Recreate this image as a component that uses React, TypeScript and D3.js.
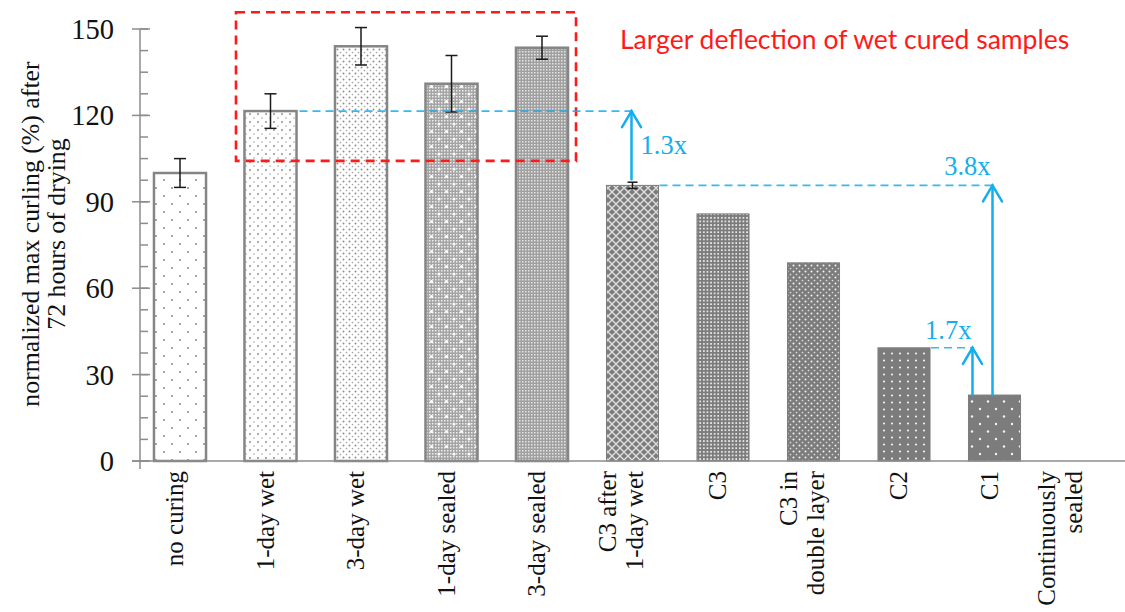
import React from "react";
import * as d3 from "d3";

// Curing regimes along the x axis ("\n" breaks a label onto a second line)
const categories = [
  "no curing",
  "1-day wet",
  "3-day wet",
  "1-day sealed",
  "3-day sealed",
  "C3 after\n1-day wet",
  "C3",
  "C3 in\ndouble layer",
  "C2",
  "C1",
  "Continuously\nsealed",
];

// Normalized max curling (%) after 72 hours of drying
const curling = [100, 121.5, 144, 131, 143.5, 95.7, 85.8, 68.8, 39.3, 22.9, 0];

// Half-length of the error bars (0 = none)
const errors = [5, 6, 6.5, 9.8, 4, 1.1, 0, 0, 0, 0, 0];

const yTicks = [0, 30, 60, 90, 120, 150];
const yMinorStep = 7.5;

// Ratio arrows: from the top of one bar up to the level of another
const ratioLabels = ["1.3x", "3.8x", "1.7x"];
const ratioFrom = [5, 9, 9];
const ratioTo = [1, 5, 8];

// Highlighted group of wet / sealed cured bars
const highlightText = "Larger deflection of wet cured samples";
const highlightBars = [1, 4];
const highlightRange = [104.2, 155.8];

const W = 1125;
const H = 612;
const SERIF = "'Liberation Serif', 'Times New Roman', serif";
const BLUE = "#12aeee";
const RED = "#ff1a1a";
const GRID = "#8c8c8c";

const x = d3
  .scaleBand<string>()
  .domain(categories)
  .range([134.75, 1130.25])
  .paddingInner(0.425)
  .paddingOuter(0.2125);

const y = d3.scaleLinear().domain([0, 150]).range([461, 29]);

const barFills = ["p0", "p1", "p2", "p3", "p4", "p5", "p6", "p7", "p8", "p9", "p9"];
const DARK = "#7c7c7c";

function Patterns() {
  const fine = (bg: string, fg: string, size: number, extra?: React.ReactNode) => {
    const cells: React.ReactNode[] = [];
    for (let i = 0; i < size; i += 3)
      for (let j = 0; j < size; j += 3)
        cells.push(<rect key={`${i}-${j}`} x={i} y={j} width={1.5} height={1.5} fill={fg} />);
    return (
      <>
        <rect width={size} height={size} fill={bg} />
        {cells}
        {extra}
      </>
    );
  };
  return (
    <defs>
      <pattern id="p0" width={16} height={16} patternUnits="userSpaceOnUse">
        <rect width={16} height={16} fill="#fff" />
        <circle cx={4} cy={4} r={1} fill="#8a8a8a" />
        <circle cx={12} cy={12} r={1} fill="#8a8a8a" />
      </pattern>
      <pattern id="p1" width={8} height={8} patternUnits="userSpaceOnUse">
        <rect width={8} height={8} fill="#fff" />
        <circle cx={2} cy={2} r={0.95} fill="#8a8a8a" />
        <circle cx={6} cy={6} r={0.8} fill="#a0a0a0" />
      </pattern>
      <pattern id="p2" width={6} height={6} patternUnits="userSpaceOnUse">
        <rect width={6} height={6} fill="#fff" />
        <circle cx={1.5} cy={1.5} r={0.95} fill="#8c8c8c" />
        <circle cx={4.5} cy={4.5} r={0.85} fill="#a4a4a4" />
      </pattern>
      <pattern id="p3" width={15} height={15} patternUnits="userSpaceOnUse">
        {fine(
          "#a4a4a4",
          "#eeeeee",
          15,
          <>
            <circle cx={4} cy={4} r={1.6} fill="#fff" />
            <circle cx={11.5} cy={11.5} r={1.6} fill="#fff" />
          </>
        )}
      </pattern>
      <pattern id="p4" width={3} height={3} patternUnits="userSpaceOnUse">
        {fine("#a0a0a0", "#e4e4e4", 3)}
      </pattern>
      <pattern id="p5" width={8} height={8} patternUnits="userSpaceOnUse">
        <rect width={8} height={8} fill={DARK} />
        <path d="M4,0 L8,4 L4,8 L0,4 Z" fill="none" stroke="#e2e2e2" strokeWidth={1.3} />
      </pattern>
      <pattern id="p6" width={3.6} height={3.6} patternUnits="userSpaceOnUse">
        <rect width={3.6} height={3.6} fill={DARK} />
        <rect x={1} y={1} width={1.7} height={1.7} fill="#ededed" />
      </pattern>
      <pattern id="p7" width={6} height={6} patternUnits="userSpaceOnUse">
        <rect width={6} height={6} fill={DARK} />
        <circle cx={1.5} cy={1.5} r={1} fill="#f2f2f2" />
        <circle cx={4.5} cy={4.5} r={0.85} fill="#e0e0e0" />
      </pattern>
      <pattern id="p8" width={8} height={7} patternUnits="userSpaceOnUse">
        <rect width={8} height={7} fill={DARK} />
        <circle cx={4} cy={3.5} r={1.05} fill="#f4f4f4" />
      </pattern>
      <pattern id="p9" width={16} height={15} patternUnits="userSpaceOnUse">
        <rect width={16} height={15} fill={DARK} />
        <circle cx={4} cy={4} r={1.2} fill="#f4f4f4" />
        <circle cx={12} cy={11.5} r={1.2} fill="#f4f4f4" />
      </pattern>
    </defs>
  );
}

function Arrow({ x0, yFrom, yTo }: { x0: number; yFrom: number; yTo: number }) {
  return (
    <g stroke={BLUE} strokeWidth={2.5} fill="none" strokeLinecap="round">
      <line x1={x0} x2={x0} y1={yFrom} y2={yTo} />
      <path d={`M${x0 - 9.5},${yTo + 16} L${x0},${yTo} L${x0 + 9.5},${yTo + 16}`} />
    </g>
  );
}

export default function App() {
  const bw = x.bandwidth();
  const left = (i: number) => x(categories[i]) as number;
  const center = (i: number) => left(i) + bw / 2;
  const right = (i: number) => left(i) + bw;

  const lineGap = 27;
  const labelTop = 471;
  const labelLimit = 1082;

  // ratio arrow geometry
  const arrows = ratioLabels.map((label, k) => {
    const from = ratioFrom[k];
    const to = ratioTo[k];
    const yTo = y(curling[to]);
    const yFrom = y(curling[from] + errors[from]) - (errors[from] > 0 ? 3 : 0);
    return { label, from, to, yTo, yFrom };
  });

  // 1.3x: arrow rises from the C3-after bar, label to its right
  const a0 = arrows[0];
  const ax0 = center(a0.from) - 1;
  // 3.8x: long arrow rising from C1, label above-left of the tip
  const a1 = arrows[1];
  const ax1 = center(a1.from) - 2;
  // 1.7x: short arrow near the left edge of C1
  const a2 = arrows[2];
  const ax2 = left(a2.from) + 4;

  return (
    <svg
      width={W}
      height={H}
      viewBox={`0 0 ${W} ${H}`}
      style={{ position: "absolute", left: 0, top: 0, background: "#fff" }}
    >
      <Patterns />
      <rect width={W} height={H} fill="#fff" />

      {/* y axis */}
      <g stroke={GRID} strokeWidth={1.5}>
        <line x1={140} x2={140} y1={y(150)} y2={469} />
        {d3.range(0, 150 + 0.001, yMinorStep).map((v) => (
          <line key={`m${v}`} x1={140} x2={148} y1={y(v)} y2={y(v)} />
        ))}
        {yTicks.map((v) => (
          <line key={`t${v}`} x1={132} x2={150} y1={y(v)} y2={y(v)} />
        ))}
      </g>
      {yTicks.map((v) => (
        <text
          key={`l${v}`}
          x={114}
          y={y(v)}
          dy="0.35em"
          textAnchor="end"
          fontFamily={SERIF}
          fontSize={28.5}
          fill="#111"
        >
          {v}
        </text>
      ))}
      <text
        transform={`translate(0, ${234}) rotate(-90)`}
        textAnchor="middle"
        fontFamily={SERIF}
        fontSize={25.8}
        fill="#111"
      >
        <tspan x={0} y={39}>
          normalized max curling (%) after
        </tspan>
        <tspan x={0} y={65}>
          72 hours of drying
        </tspan>
      </text>

      {/* bars */}
      {curling.map((v, i) =>
        v > 0 ? (
          <rect
            key={`b${i}`}
            x={left(i)}
            y={y(v)}
            width={bw}
            height={y(0) - y(v)}
            fill={`url(#${barFills[i]})`}
            stroke={i < 5 ? "#858585" : DARK}
            strokeWidth={i < 5 ? 2.5 : 1}
          />
        ) : null
      )}

      {/* x axis */}
      <line x1={132} x2={W} y1={y(0)} y2={y(0)} stroke={GRID} strokeWidth={1.5} />

      {/* error bars */}
      <g stroke="#1a1a1a" strokeWidth={1.5}>
        {curling.map((v, i) => {
          const e = errors[i];
          if (!e) return null;
          const cx = center(i);
          const cap = e < 2 ? 5 : 6;
          return (
            <g key={`e${i}`}>
              <line x1={cx} x2={cx} y1={y(v + e)} y2={y(v - e)} />
              <line x1={cx - cap} x2={cx + cap} y1={y(v + e)} y2={y(v + e)} />
              <line x1={cx - cap} x2={cx + cap} y1={y(v - e)} y2={y(v - e)} />
            </g>
          );
        })}
      </g>

      {/* category labels */}
      {categories.map((c, i) => {
        const lines = c.split("\n");
        const n = lines.length;
        const mid = center(i) + (n === 1 ? 3 : -3);
        let base = lines.map((_, k) => mid + (k - (n - 1) / 2) * lineGap);
        const overflow = base[n - 1] - labelLimit;
        if (overflow > 0) base = base.map((b) => b - overflow);
        return lines.map((t, k) => (
          <text
            key={`c${i}-${k}`}
            transform={`translate(${base[k]}, ${labelTop}) rotate(-90)`}
            textAnchor="end"
            fontFamily={SERIF}
            fontSize={25}
            fill="#111"
          >
            {t}
          </text>
        ));
      })}

      {/* highlighted group */}
      <rect
        x={left(highlightBars[0]) - 8.5}
        y={y(highlightRange[1])}
        width={right(highlightBars[1]) - left(highlightBars[0]) + 16.5}
        height={y(highlightRange[0]) - y(highlightRange[1])}
        fill="none"
        stroke={RED}
        strokeWidth={2.6}
        strokeDasharray="9 6"
      />
      <text x={620} y={49} fontFamily="Lato, 'Open Sans', sans-serif" fontSize={26.5} fill={RED}>
        {highlightText}
      </text>

      {/* ratio guides */}
      <g stroke={BLUE} strokeWidth={1.6} strokeDasharray="8 5" opacity={0.85}>
        <line x1={right(a0.to) + 3} x2={ax0} y1={a0.yTo} y2={a0.yTo} />
        <line x1={right(a1.to) + 1} x2={ax1} y1={a1.yTo} y2={a1.yTo} />
        <line x1={right(a2.to) + 1} x2={ax2} y1={a2.yTo} y2={a2.yTo} />
      </g>
      <Arrow x0={ax0} yFrom={a0.yFrom} yTo={a0.yTo} />
      <Arrow x0={ax1} yFrom={y(curling[a1.from])} yTo={a1.yTo} />
      <Arrow x0={ax2} yFrom={y(curling[a2.from])} yTo={a2.yTo} />
      <g fontFamily={SERIF} fontSize={26.5} fill={BLUE}>
        <text x={ax0 + 9} y={(a0.yTo + a0.yFrom) / 2 + 9}>
          {a0.label}
        </text>
        <text x={ax1 - 2} y={a1.yTo - 10} textAnchor="end">
          {a1.label}
        </text>
        <text x={ax2 - 1} y={a2.yTo - 9} textAnchor="end">
          {a2.label}
        </text>
      </g>
    </svg>
  );
}
